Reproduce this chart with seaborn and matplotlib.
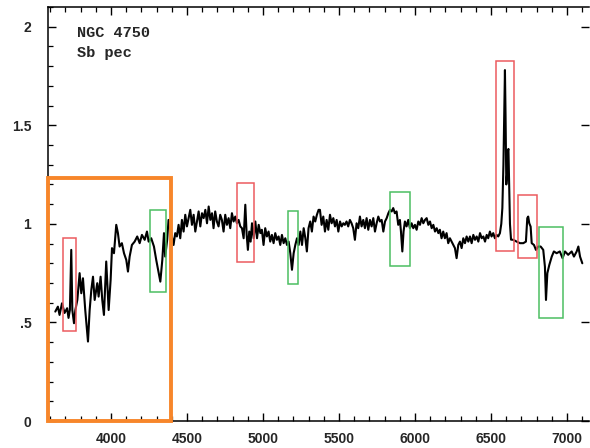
import numpy as np
import pandas as pd
import matplotlib
matplotlib.use("Agg")
import matplotlib.pyplot as plt
from matplotlib.patches import Rectangle
from matplotlib.ticker import MultipleLocator, FuncFormatter
import seaborn as sns

# spectrum, blue part (3630-4380 A)
wl_blue = [3634, 3651, 3662, 3678, 3695, 3712, 3721, 3730, 3739, 3746, 3757, 3766, 3779, 3794, 3805,
           3816, 3831, 3849, 3860, 3871, 3882, 3893, 3910, 3919, 3932, 3943, 3954, 3969, 3976, 3985,
           3998, 4007, 4020, 4035, 4046, 4057, 4072, 4086, 4101, 4112, 4123, 4138, 4156, 4173, 4189,
           4204, 4222, 4237, 4248, 4265, 4283, 4298, 4314, 4325, 4338, 4349, 4357, 4370, 4379]
fx_blue = [0.555, 0.580, 0.538, 0.597, 0.548, 0.572, 0.523, 0.563, 0.868, 0.563, 0.496, 0.563, 0.614, 0.750, 0.648,
           0.724, 0.563, 0.403, 0.563, 0.665, 0.732, 0.614, 0.699, 0.631, 0.732, 0.614, 0.538, 0.809, 0.699, 0.563,
           0.716, 0.877, 0.851, 0.995, 0.953, 0.885, 0.902, 0.851, 0.817, 0.758, 0.834, 0.893, 0.910, 0.936, 0.902,
           0.944, 0.919, 0.961, 0.910, 0.927, 0.885, 0.817, 0.750, 0.707, 0.817, 0.953, 0.834, 0.919, 1.020]

# spectrum, green part (4410-5370 A)
wl_green = [4412, 4423, 4434, 4445, 4456, 4467, 4478, 4489, 4500, 4511, 4522, 4533, 4544, 4555, 4566,
            4577, 4588, 4599, 4610, 4621, 4632, 4643, 4654, 4665, 4675, 4686, 4697, 4708, 4719, 4730,
            4741, 4752, 4763, 4774, 4785, 4796, 4807, 4818, 4829, 4840, 4851, 4862, 4873, 4884, 4893,
            4901, 4910, 4919, 4928, 4939, 4950, 4961, 4972, 4983, 4993, 5004, 5015, 5026, 5037, 5048,
            5059, 5070, 5081, 5092, 5103, 5114, 5125, 5136, 5147, 5158, 5169, 5180, 5191, 5202, 5213,
            5224, 5235, 5246, 5257, 5268, 5279, 5289, 5300, 5311, 5322, 5333, 5344, 5355, 5366]
fx_green = [0.893, 0.953, 0.936, 0.995, 0.927, 1.020, 0.961, 1.046, 0.987, 1.029, 1.071, 0.995, 1.046, 0.961, 1.012,
            1.063, 0.987, 1.054, 1.029, 1.071, 1.003, 1.088, 1.020, 1.054, 0.978, 1.063, 1.012, 0.987, 1.046, 1.020,
            0.961, 1.046, 0.995, 1.029, 0.978, 1.054, 1.012, 1.037, 1.003, 1.020, 0.987, 0.978, 0.927, 1.097, 0.944,
            0.868, 0.961, 0.910, 1.003, 0.927, 1.012, 0.927, 0.995, 0.953, 0.970, 0.893, 0.978, 0.936, 0.961, 0.910,
            0.944, 0.902, 0.953, 0.919, 0.936, 0.893, 0.944, 0.902, 0.927, 0.893, 0.910, 0.851, 0.767, 0.851, 0.893,
            0.927, 0.893, 0.961, 0.893, 0.978, 0.927, 0.860, 0.978, 1.012, 0.961, 1.037, 1.012, 1.046, 1.071]

# spectrum, yellow part (5375-6550 A)
wl_yellow = [5375, 5386, 5397, 5408, 5419, 5430, 5441, 5452, 5463, 5474, 5485, 5496, 5507, 5518, 5529,
             5539, 5550, 5561, 5572, 5583, 5594, 5605, 5616, 5627, 5638, 5649, 5660, 5671, 5682, 5693,
             5704, 5715, 5726, 5737, 5748, 5759, 5770, 5781, 5792, 5803, 5814, 5825, 5836, 5847, 5857,
             5868, 5879, 5890, 5901, 5908, 5917, 5925, 5934, 5945, 5956, 5967, 5978, 5989, 6000, 6011,
             6022, 6033, 6044, 6055, 6066, 6077, 6088, 6099, 6110, 6121, 6132, 6143, 6154, 6164, 6175,
             6186, 6197, 6208, 6219, 6230, 6241, 6252, 6263, 6274, 6285, 6296, 6307, 6318, 6329, 6340,
             6351, 6362, 6373, 6384, 6395, 6406, 6417, 6428, 6439, 6450, 6461, 6472, 6482, 6493, 6504,
             6515, 6526, 6537, 6548]
fx_yellow = [1.071, 0.995, 1.037, 0.961, 1.020, 0.970, 1.046, 1.003, 1.029, 0.987, 1.020, 0.961, 1.012, 0.987, 1.003,
             0.995, 1.012, 0.987, 1.020, 1.003, 0.978, 0.919, 1.003, 0.978, 1.037, 0.987, 1.020, 0.978, 1.029, 0.970,
             1.020, 0.987, 1.029, 0.961, 1.003, 1.037, 1.012, 1.020, 0.961, 1.012, 1.029, 1.054, 1.071, 1.063, 1.080,
             1.054, 1.063, 0.995, 1.020, 0.961, 0.860, 0.961, 1.012, 0.987, 1.020, 0.978, 1.003, 0.978, 0.995, 0.970,
             1.012, 0.995, 1.029, 1.003, 1.020, 1.029, 0.995, 1.012, 0.978, 0.995, 0.961, 0.978, 0.953, 0.970, 0.927,
             0.961, 0.927, 0.953, 0.902, 0.927, 0.910, 0.893, 0.877, 0.826, 0.893, 0.910, 0.877, 0.927, 0.902, 0.936,
             0.910, 0.936, 0.902, 0.944, 0.919, 0.936, 0.910, 0.953, 0.927, 0.936, 0.910, 0.944, 0.927, 0.961, 0.936,
             0.953, 0.927, 0.944, 0.936]

# spectrum, red part (6555-7100 A)
wl_red = [6559, 6568, 6575, 6582, 6588, 6592, 6596, 6601, 6606, 6611, 6615,
          6620, 6625, 6632, 6647, 6669, 6691, 6713, 6730, 6739, 6745, 6752, 6761, 6768, 6783, 6796,
          6811, 6827, 6844, 6855, 6862, 6871, 6884, 6900, 6914, 6932, 6953, 6971, 6987, 7008, 7031,
          7046, 7064, 7075, 7086, 7101]
fx_red = [0.953, 1.000, 1.080, 1.300, 1.600, 1.780, 1.550, 1.200, 1.250, 1.370, 1.380,
          1.200, 1.000, 0.920, 0.919, 0.910, 0.902, 0.902, 0.910, 1.029, 1.037, 1.003, 0.986, 0.902, 0.893, 0.868,
          0.885, 0.885, 0.868, 0.783, 0.614, 0.750, 0.792, 0.834, 0.860, 0.851, 0.860, 0.826, 0.860, 0.843, 0.860,
          0.834, 0.860, 0.885, 0.834, 0.800]

# boxes: (x0, x1, y0, y1) in data units
red_boxes = [(3684, 3770, 0.457, 0.929), (4829, 4941, 0.807, 1.208),
             (6533, 6651, 0.863, 1.827), (6678, 6803, 0.827, 1.147)]
green_boxes = [(4257, 4362, 0.655, 1.071), (5164, 5230, 0.695, 1.066),
               (5836, 5967, 0.787, 1.162), (6816, 6974, 0.523, 0.985)]
orange_box = (3586, 4395, 0.0, 1.232)

title_lines = ["NGC 4750", "Sb pec"]
x_ticks = [4000, 4500, 5000, 5500, 6000, 6500, 7000]
y_ticks = [0, 0.5, 1, 1.5, 2]

sns.set_style("ticks")
plt.rcParams['font.family'] = ['Liberation Sans', 'DejaVu Sans']

fig = plt.figure(figsize=(5.9, 4.48), dpi=100)
ax = fig.add_axes([48 / 590, 27 / 448, 541 / 590, 414 / 448])

df = pd.DataFrame({"wl": wl_blue + wl_green + wl_yellow + wl_red,
                   "flux": fx_blue + fx_green + fx_yellow + fx_red})
sns.lineplot(data=df, x="wl", y="flux", ax=ax, color="black", linewidth=1.5,
             sort=False, estimator=None)

ax.set_xlim(3586, 7145)
ax.set_ylim(0, 2.1)
ax.set_xlabel("")
ax.set_ylabel("")

ax.set_xticks(x_ticks)
ax.set_yticks(y_ticks)
ax.xaxis.set_minor_locator(MultipleLocator(100))
ax.yaxis.set_minor_locator(MultipleLocator(0.1))


def yfmt(v, pos):
    if abs(v) < 1e-9:
        return "0"
    s = ("%g" % v)
    if s.startswith("0."):
        s = s[1:]
    return s


ax.yaxis.set_major_formatter(FuncFormatter(yfmt))

for s in ["left", "bottom", "top"]:
    ax.spines[s].set_linewidth(1.1)
    ax.spines[s].set_color("black")
ax.spines["right"].set_visible(False)

ax.tick_params(which="major", direction="in", length=6, width=1.0, top=True, right=True,
               labelsize=10, color="black")
ax.tick_params(which="minor", direction="in", length=3.5, width=0.9, top=True, right=False,
               color="black")
ax.tick_params(axis="x", which="major", pad=8)
ax.tick_params(axis="y", which="major", pad=12)
for lab in ax.get_xticklabels() + ax.get_yticklabels():
    lab.set_fontweight("bold")

for (x0, x1, y0, y1) in red_boxes:
    ax.add_patch(Rectangle((x0, y0), x1 - x0, y1 - y0, fill=False,
                           edgecolor="#ec5b5f", linewidth=1.1, zorder=3))
for (x0, x1, y0, y1) in green_boxes:
    ax.add_patch(Rectangle((x0, y0), x1 - x0, y1 - y0, fill=False,
                           edgecolor="#4cbf62", linewidth=1.1, zorder=3))
x0, x1, y0, y1 = orange_box
ax.add_patch(Rectangle((x0, y0), x1 - x0, y1 - y0, fill=False,
                       edgecolor="#f7862a", linewidth=2.8, zorder=5, clip_on=False))

ax.text(0.054, 1.95, title_lines[0], transform=ax.get_yaxis_transform(), fontsize=11,
        family=["Liberation Mono", "DejaVu Sans Mono"], fontweight="bold", va="baseline")
ax.text(0.054, 1.848, title_lines[1], transform=ax.get_yaxis_transform(), fontsize=11,
        family=["Liberation Mono", "DejaVu Sans Mono"], fontweight="bold", va="baseline")

fig.savefig("out.png", dpi=100)
